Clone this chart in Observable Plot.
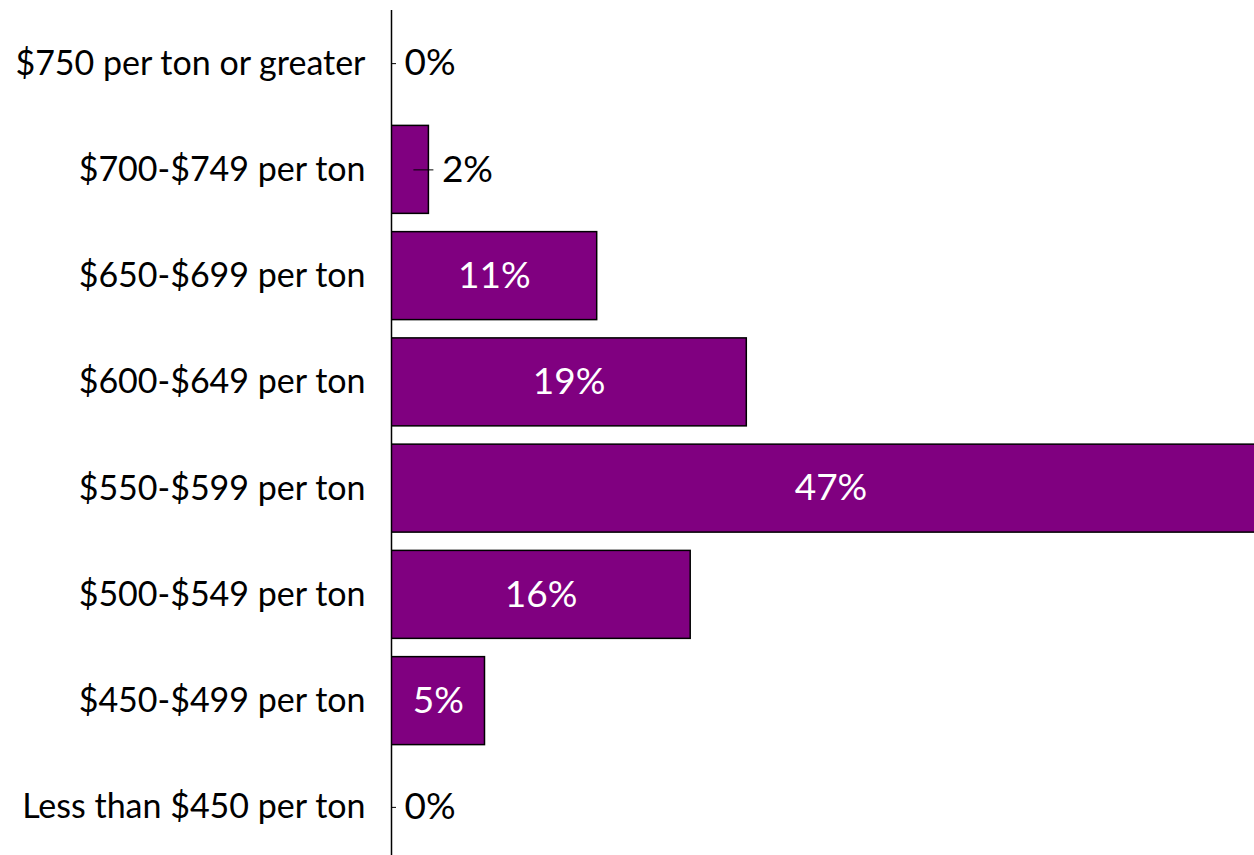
<!DOCTYPE html>
<html>
<head>
<meta charset="utf-8">
<script src="https://cdn.jsdelivr.net/npm/d3@7"></script>
<script src="https://cdn.jsdelivr.net/npm/@observablehq/plot@0.6"></script>
<style>
  html, body { margin: 0; padding: 0; background: #fff; overflow: hidden; }
</style>
</head>
<body>
<div id="chart"></div>
<script>
const categories = [
  "$750 per ton or greater",
  "$700-$749 per ton",
  "$650-$699 per ton",
  "$600-$649 per ton",
  "$550-$599 per ton",
  "$500-$549 per ton",
  "$450-$499 per ton",
  "Less than $450 per ton"
];
const values = [0, 2, 11, 19, 47, 16, 5, 0];
const labels = ["0%", "2%", "11%", "19%", "47%", "16%", "5%", "0%"];

const data = categories.map((c, i) => ({cat: c, value: values[i], label: labels[i]}));
const font = "Lato, 'Open Sans', sans-serif";

const chart = Plot.plot({
  width: 1254,
  height: 860,
  marginLeft: 391,
  marginRight: 0,
  marginTop: 10,
  marginBottom: 0,
  style: {fontFamily: font, background: "white", overflow: "hidden"},
  x: {domain: [0, 46.15], axis: null},
  y: {domain: categories, paddingInner: 0.172, paddingOuter: 0.086, round: false, axis: null, label: null},
  marks: [
    Plot.barX(data.filter(d => d.value > 0), {
      x: "value", y: "cat", fill: "#800080", stroke: "black", strokeWidth: 1.5, clip: true
    }),
    Plot.ruleX([0], {stroke: "black", strokeWidth: 1.5}),
    Plot.ruleY(data.filter(d => d.value === 0), {
      y: "cat", x1: "value", x2: "value", insetRight: -5, stroke: "black", strokeWidth: 1
    }),
    Plot.ruleY(data.filter(d => d.value > 0 && d.value < 5), {
      y: "cat", x1: "value", x2: "value", insetLeft: -15, insetRight: -5, stroke: "black", strokeWidth: 1
    }),
    Plot.axisY({tickSize: 0, tickPadding: 26, fontSize: 34, fill: "black", fontFamily: font, label: null}),
    Plot.text(data.filter(d => d.value >= 5), {
      x: d => d.value / 2, y: "cat", text: "label", fill: "white", fontSize: 37, fontFamily: font
    }),
    Plot.text(data.filter(d => d.value < 5), {
      x: "value", y: "cat", text: "label", textAnchor: "start", dx: 13, fill: "black", fontSize: 37, fontFamily: font
    })
  ]
});
document.getElementById("chart").appendChild(chart);
</script>
</body>
</html>
